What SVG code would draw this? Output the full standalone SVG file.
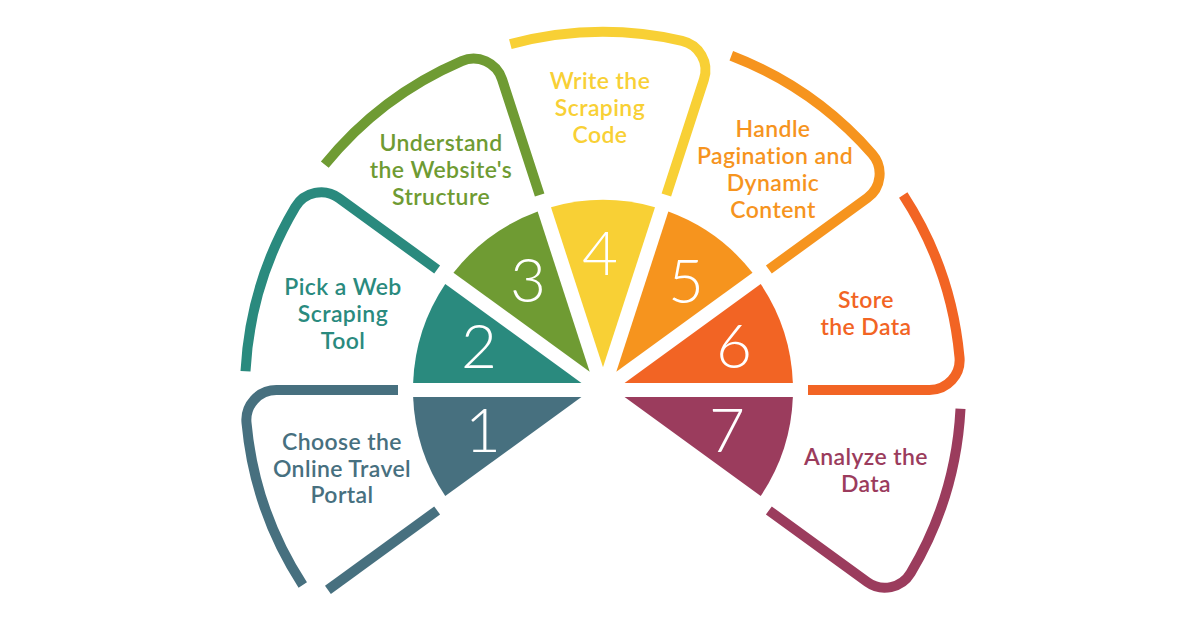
<svg xmlns="http://www.w3.org/2000/svg" width="1200" height="628" viewBox="0 0 1200 628">
<style>
.num{font-family:Lato,"Open Sans","Liberation Sans",sans-serif;font-weight:300;font-size:62px;fill:#fff;text-anchor:middle}
.lbl{font-family:Lato,"Open Sans","Liberation Sans",sans-serif;font-weight:600;font-size:23px;letter-spacing:0.4px;text-anchor:middle}
.ol{fill:none;stroke-width:10;stroke-linecap:butt;stroke-linejoin:round}
.c1{fill:#47707f}.s1{stroke:#47707f}
.c2{fill:#2a8a7e}.s2{stroke:#2a8a7e}
.c3{fill:#6f9b33}.s3{stroke:#6f9b33}
.c4{fill:#f8d035}.s4{stroke:#f8d035}
.c5{fill:#f6941e}.s5{stroke:#f6941e}
.c6{fill:#f26424}.s6{stroke:#f26424}
.c7{fill:#9b3c5d}.s7{stroke:#9b3c5d}
</style>
<rect width="1200" height="628" fill="#fff"/>
<g id="step1">
<path class="c1" d="M581.46,397 L413.13,397 A190,190 0 0 0 445.28,495.95 Z"/>
<text class="num" x="483" y="452">1</text>
<path class="ol s1" d="M302.76,584.98 A358,358 0 0 1 246.5,422.75 A30,30 0 0 1 276.37,390 L398,390"/>
<path class="ol s1" d="M437.15,510.5 L327.93,589.85"/>
<text class="lbl c1" x="342" y="450">Choose the</text>
<text class="lbl c1" x="342" y="477">Online Travel</text>
<text class="lbl c1" x="342" y="503">Portal</text>
</g>
<g id="step2">
<path class="c2" d="M581.46,383 L445.28,284.05 A190,190 0 0 0 413.13,383 Z"/>
<text class="num" x="479" y="368">2</text>
<path class="ol s2" d="M245.49,371.26 A358,358 0 0 1 295.34,206.95 A30,30 0 0 1 338.75,198.01 L437.15,269.5"/>
<text class="lbl c2" x="343" y="295">Pick a Web</text>
<text class="lbl c2" x="343" y="322">Scraping</text>
<text class="lbl c2" x="343" y="349">Tool</text>
</g>
<g id="step3">
<path class="c3" d="M589.69,371.68 L537.66,211.59 A190,190 0 0 0 453.48,272.77 Z"/>
<text class="num" x="528" y="302">3</text>
<path class="ol s3" d="M324.78,164.7 A358,358 0 0 1 461.69,61.07 A30,30 0 0 1 502.06,79.36 L539.65,195.03"/>
<text class="lbl c3" x="441" y="151">Understand</text>
<text class="lbl c3" x="441" y="178">the Website's</text>
<text class="lbl c3" x="441" y="205">Structure</text>
</g>
<g id="step4">
<path class="c4" d="M603,367.35 L655.02,207.26 A190,190 0 0 0 550.98,207.26 Z"/>
<text class="num" x="600" y="275">4</text>
<path class="ol s4" d="M510.34,44.2 A358,358 0 0 1 682.02,40.83 A30,30 0 0 1 703.94,79.36 L666.35,195.03"/>
<text class="lbl c4" x="600" y="89">Write the</text>
<text class="lbl c4" x="600" y="116">Scraping</text>
<text class="lbl c4" x="600" y="143">Code</text>
</g>
<g id="step5">
<path class="c5" d="M616.31,371.68 L752.52,272.77 A190,190 0 0 0 668.34,211.59 Z"/>
<text class="num" x="686" y="303">5</text>
<path class="ol s5" d="M731.3,55.78 A358,358 0 0 1 872.17,153.96 A30,30 0 0 1 867.25,198.01 L768.85,269.5"/>
<text class="lbl c5" x="773" y="137">Handle</text>
<text class="lbl c5" x="775" y="164">Pagination and</text>
<text class="lbl c5" x="773" y="191">Dynamic</text>
<text class="lbl c5" x="773" y="218">Content</text>
</g>
<g id="step6">
<path class="c6" d="M624.54,383 L792.87,383 A190,190 0 0 0 760.72,284.05 Z"/>
<text class="num" x="734" y="368">6</text>
<path class="ol s6" d="M903.24,195.02 A358,358 0 0 1 959.5,357.25 A30,30 0 0 1 929.63,390 L808,390"/>
<text class="lbl c6" x="866" y="308">Store</text>
<text class="lbl c6" x="866" y="335">the Data</text>
</g>
<g id="step7">
<path class="c7" d="M624.54,397 L760.72,495.95 A190,190 0 0 0 792.87,397 Z"/>
<text class="num" x="727" y="452">7</text>
<path class="ol s7" d="M960.51,408.74 A358,358 0 0 1 910.66,573.05 A30,30 0 0 1 867.25,581.99 L768.85,510.5"/>
<text class="lbl c7" x="866" y="465">Analyze the</text>
<text class="lbl c7" x="866" y="492">Data</text>
</g>
</svg>
